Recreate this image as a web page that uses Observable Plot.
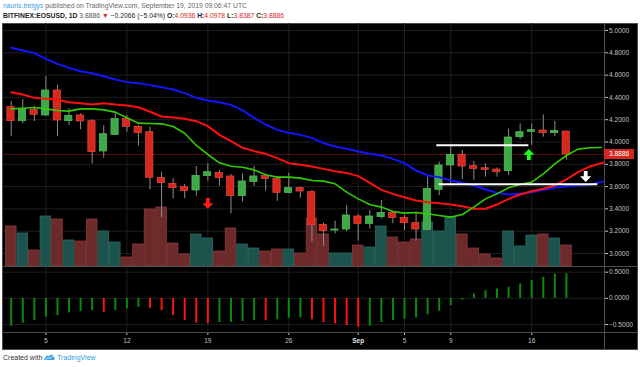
<!DOCTYPE html>
<html><head><meta charset="utf-8">
<script src="https://cdn.jsdelivr.net/npm/d3@7"></script>
<script src="https://cdn.jsdelivr.net/npm/@observablehq/plot@0.6"></script>
<style>
html,body{margin:0;padding:0;background:#fff;}
#root{position:relative;width:640px;height:367px;overflow:hidden;font-family:"Liberation Sans",Arial,sans-serif;}
#root svg{position:absolute;left:0;}
</style></head><body><div id="root"></div>
<script>
// ---- data ----
const dates = ["2019-08-02","2019-08-03","2019-08-04","2019-08-05","2019-08-06","2019-08-07","2019-08-08","2019-08-09","2019-08-10","2019-08-11",
"2019-08-12","2019-08-13","2019-08-14","2019-08-15","2019-08-16","2019-08-17","2019-08-18","2019-08-19","2019-08-20","2019-08-21",
"2019-08-22","2019-08-23","2019-08-24","2019-08-25","2019-08-26","2019-08-27","2019-08-28","2019-08-29","2019-08-30","2019-08-31",
"2019-09-01","2019-09-02","2019-09-03","2019-09-04","2019-09-05","2019-09-06","2019-09-07","2019-09-08","2019-09-09","2019-09-10",
"2019-09-11","2019-09-12","2019-09-13","2019-09-14","2019-09-15","2019-09-16","2019-09-17","2019-09-18","2019-09-19"];
const extraDates = ["2019-09-20","2019-09-21","2019-09-22","2019-09-23"];
const open = [4.312,4.187,4.288,4.238,4.462,4.187,4.238,4.187,3.915,4.064,4.208,4.136,4.088,3.676,3.625,3.595,3.565,3.694,3.723,3.691,3.514,3.640,3.694,3.667,3.544,3.586,3.550,3.257,3.206,3.215,3.332,3.266,3.326,3.362,3.320,3.272,3.212,3.571,3.789,3.885,3.783,3.765,3.753,3.738,4.043,4.091,4.103,4.079,4.0936];
const high = [4.363,4.381,4.318,4.587,4.507,4.297,4.253,4.199,4.148,4.259,4.238,4.148,4.133,3.729,3.670,3.619,3.780,3.804,3.744,3.709,3.714,3.780,3.706,3.685,3.720,3.595,3.565,3.272,3.290,3.430,3.350,3.386,3.475,3.371,3.341,3.371,3.685,3.819,3.969,3.924,3.825,3.804,3.768,4.115,4.163,4.163,4.244,4.184,4.0978];
const low = [4.049,4.163,4.184,4.229,4.049,4.148,4.109,3.804,3.855,4.064,4.088,3.963,3.571,3.320,3.490,3.490,3.514,3.649,3.604,3.356,3.460,3.601,3.559,3.469,3.535,3.496,3.102,3.063,3.176,3.197,3.111,3.221,3.311,3.266,3.206,3.111,3.206,3.520,3.625,3.664,3.655,3.685,3.685,3.700,4.022,3.969,4.043,4.049,3.8387];
const close = [4.187,4.297,4.244,4.462,4.193,4.235,4.184,3.909,4.070,4.205,4.136,4.079,3.679,3.631,3.586,3.559,3.697,3.729,3.676,3.514,3.646,3.691,3.667,3.544,3.586,3.556,3.254,3.200,3.215,3.341,3.266,3.332,3.362,3.317,3.272,3.215,3.580,3.789,3.885,3.780,3.759,3.750,3.729,4.040,4.088,4.106,4.079,4.100,3.8886];
const volume = [4.0,3.3,1.6,5.0,4.7,2.6,2.5,4.7,3.5,2.4,0.9,2.2,5.7,5.9,2.3,1.2,3.2,2.8,1.5,3.8,2.2,1.8,1.5,1.7,1.7,1.3,4.8,3.2,1.3,1.3,2.1,1.9,4.0,2.9,2.4,2.7,4.4,3.5,4.9,3.2,1.8,1.2,0.8,3.5,2.0,3.1,3.2,2.8,2.1];
const ao = [-0.532,-0.475,-0.424,-0.361,-0.329,-0.278,-0.253,-0.234,-0.266,-0.234,-0.203,-0.171,-0.190,-0.234,-0.329,-0.424,-0.475,-0.487,-0.462,-0.458,-0.443,-0.424,-0.428,-0.411,-0.380,-0.373,-0.411,-0.462,-0.487,-0.519,-0.551,-0.532,-0.462,-0.424,-0.399,-0.373,-0.316,-0.247,-0.139,-0.032,0.083,0.147,0.179,0.212,0.276,0.340,0.404,0.462,0.470];
const lips = [4.297,4.303,4.309,4.297,4.282,4.277,4.297,4.297,4.288,4.268,4.217,4.169,4.166,4.163,4.139,4.079,3.969,3.888,3.813,3.783,3.774,3.750,3.706,3.685,3.685,3.676,3.655,3.649,3.625,3.550,3.490,3.439,3.416,3.377,3.362,3.368,3.356,3.341,3.326,3.350,3.416,3.490,3.535,3.589,3.619,3.640,3.714,3.804,3.879,3.936,3.948,3.951];
const teeth = [4.447,4.426,4.396,4.387,4.378,4.357,4.348,4.336,4.348,4.336,4.327,4.312,4.271,4.229,4.220,4.208,4.187,4.142,4.064,4.007,3.948,3.918,3.894,3.855,3.810,3.795,3.780,3.759,3.738,3.723,3.694,3.634,3.571,3.535,3.505,3.475,3.460,3.451,3.439,3.424,3.401,3.401,3.439,3.490,3.529,3.559,3.580,3.610,3.664,3.729,3.780,3.810,3.840];
const jaw = [4.845,4.821,4.797,4.746,4.701,4.665,4.635,4.617,4.590,4.561,4.537,4.528,4.510,4.492,4.471,4.438,4.396,4.372,4.357,4.333,4.283,4.217,4.157,4.109,4.082,4.064,4.037,3.990,3.960,3.939,3.915,3.894,3.879,3.849,3.810,3.744,3.700,3.685,3.655,3.634,3.610,3.574,3.544,3.529,3.535,3.550,3.571,3.589,3.604,3.610,3.616,3.640,3.670];
const levelPrice = [3.970, 3.622];
const levelStart = ["2019-09-07T19:00Z","2019-09-08T00:00Z"];
const levelEnd = ["2019-09-15T18:00Z","2019-09-21T17:00Z"];
const arrowTime = ["2019-08-19T00:00Z","2019-09-15T18:00Z","2019-09-20T16:00Z"];
const arrowPrice = [3.448, 3.888, 3.691];
const arrowDir = ["down","up","down"];
const arrowColor = ["#ff1a1a","#1aff1a","#ffffff"];
const priceTicks = [3.0,3.2,3.4,3.6,3.8,4.0,4.2,4.4,4.6,4.8,5.0];
const aoTicks = [-0.5,0,0.5];
const timeTicks = ["2019-08-05","2019-08-12","2019-08-19","2019-08-26","2019-09-01","2019-09-05","2019-09-09","2019-09-16"];
const timeLabels = ["5","12","19","26","Sep","5","9","16"];
const lastPrice = 3.8886;

// ---- build ----
const parse = d3.utcParse("%Y-%m-%d");
const iso = s => new Date(s);
const candles = dates.map((d,i)=>({date:parse(d),open:open[i],high:high[i],low:low[i],close:close[i],volume:volume[i],ao:ao[i],up:close[i]>=open[i],rising:i===0?true:ao[i]>ao[i-1]}));
const allDates = dates.concat(extraDates).map(parse);
const lipsData = lips.map((v,i)=>({date:allDates[i],v}));
const teethData = teeth.map((v,i)=>({date:allDates[i],v}));
const jawData = jaw.map((v,i)=>({date:allDates[i],v}));
const levels = levelPrice.map((p,i)=>({p,x1:iso(levelStart[i]),x2:iso(levelEnd[i])}));
const arrows = arrowTime.map((t,i)=>({date:iso(t),p:arrowPrice[i],dir:arrowDir[i],color:arrowColor[i]}));
const ticks = timeTicks.map((d,i)=>({date:parse(d),label:timeLabels[i]}));
const tickDates = ticks.map(d=>d.date);

const t0 = d3.utcHour.offset(candles[0].date, -15.1);
const t1 = d3.utcHour.offset(candles[0].date, 51.31*24);
const xCfg = () => ({type:"utc", domain:[t0,t1], axis:null});
const style = {background:"transparent", color:"#c2c2c2", fontFamily:"Liberation Sans, Arial, sans-serif", fontSize:"6.6px", overflow:"visible"};
const paneCommon = {width:640, height:266, marginTop:23, marginBottom:0, marginLeft:3, marginRight:36, style};
const yPrice = {domain:[2.8834,5.0628]};
const hr = h => d => d3.utcHour.offset(d.date, h);
const G = "#3fa948", GS = "#55c45d", R = "#d7281f", RS = "#ea4a40";

const upArrow = {draw(c){c.moveTo(-1.9,5.5);c.lineTo(1.9,5.5);c.lineTo(1.9,0.3);c.lineTo(5.6,0.3);c.lineTo(0,-5.5);c.lineTo(-5.6,0.3);c.lineTo(-1.9,0.3);c.closePath();}};
const downArrow = {draw(c){c.moveTo(-1.9,-5.5);c.lineTo(1.9,-5.5);c.lineTo(1.9,-0.3);c.lineTo(5.6,-0.3);c.lineTo(0,5.5);c.lineTo(-5.6,-0.3);c.lineTo(-1.9,-0.3);c.closePath();}};

const root = document.getElementById("root");
function addDiv(html, css){const d=document.createElement("div");d.style.cssText=css;d.innerHTML=html;root.appendChild(d);return d;}

// header
addDiv('<div><span style="color:#3d9be0">nauris.treigys</span> published on TradingView.com, September 19, 2019 09:06:47 UTC</div>'+
'<div style="color:#222"><b>BITFINEX:EOSUSD, 1D</b> <span style="color:#555">3.8886</span> <span style="color:#d8241c">▼</span> −0.2066 (−5.04%) <b>O:</b><span style="color:#d8241c">4.0936</span> <b>H:</b><span style="color:#d8241c">4.0978</span> <b>L:</b><span style="color:#d8241c">3.8387</span> <b>C:</b><span style="color:#d8241c">3.8886</span></div>',
"position:absolute;left:3px;top:1px;font-size:6.8px;line-height:9.5px;color:#666;white-space:nowrap;");

// black panel
addDiv("", "position:absolute;left:2px;top:23px;width:636px;height:327px;background:#000;box-sizing:border-box;border:1px solid #4d4d4d;");

// grid + price axis
const gridPlot = Plot.plot({...paneCommon,
  x:xCfg(),
  y:{...yPrice, axis:"right", ticks:priceTicks, tickFormat:d3.format(".4f"), tickSize:3, tickPadding:1.5, label:null},
  marks:[
    Plot.ruleY(priceTicks,{stroke:"#1e1e1e"}),
    Plot.ruleX(tickDates,{stroke:"#1e1e1e"})
  ]});
gridPlot.style.top="0px"; root.appendChild(gridPlot);

// volume
const volPlot = Plot.plot({...paneCommon,
  x:xCfg(),
  y:{domain:[0,24.3], axis:null},
  marks:[
    Plot.rect(candles,{x1:hr(-11),x2:hr(11),y1:()=>0,y2:"volume",fill:d=>d.up?"#1c534d":"#6d2a2a",stroke:d=>d.up?"#2b6a63":"#8a3a3a",strokeWidth:0.8})
  ]});
volPlot.style.top="0px"; root.appendChild(volPlot);

// candles + indicators
const pricePlot = Plot.plot({...paneCommon,
  x:xCfg(),
  y:{...yPrice, axis:null},
  marks:[
    Plot.ruleY([lastPrice],{stroke:"#5a1010"}),
    Plot.ruleX(candles,{x:"date",y1:"low",y2:"high",stroke:"#8c8c8c",strokeWidth:1}),
    Plot.rect(candles,{x1:hr(-7.2),x2:hr(7.2),y1:"open",y2:"close",fill:d=>d.up?G:R,stroke:d=>d.up?GS:RS,strokeWidth:0.7}),
    Plot.line(jawData,{x:"date",y:"v",stroke:"#1414ff",strokeWidth:2,clip:true}),
    Plot.line(teethData,{x:"date",y:"v",stroke:"#ff1010",strokeWidth:2,clip:true}),
    Plot.line(lipsData,{x:"date",y:"v",stroke:"#33cc00",strokeWidth:1.6,clip:true}),
    Plot.ruleY(levels,{y:"p",x1:"x1",x2:"x2",stroke:"#ffffff",strokeWidth:2}),
    Plot.dot(arrows.filter(a=>a.dir==="up"),{x:"date",y:"p",symbol:upArrow,fill:"color",stroke:null,r:5}),
    Plot.dot(arrows.filter(a=>a.dir==="down"),{x:"date",y:"p",symbol:downArrow,fill:"color",stroke:null,r:5})
  ]});
pricePlot.style.top="0px"; root.appendChild(pricePlot);

// oscillator
const aoPlot = Plot.plot({width:640, height:84, marginTop:0, marginBottom:18, marginLeft:3, marginRight:36, style,
  x:{type:"utc", domain:[t0,t1], axis:"bottom", ticks:tickDates, tickFormat:()=>"", tickSize:3, label:null},
  y:{domain:[-0.653,0.609], axis:"right", ticks:aoTicks, tickFormat:d3.format(".4f"), tickSize:3, tickPadding:1.5, label:null},
  marks:[
    Plot.ruleY(aoTicks,{stroke:"#1e1e1e"}),
    Plot.ruleX(tickDates,{stroke:"#1e1e1e"}),
    Plot.ruleX(candles,{x:"date",y1:()=>0,y2:"ao",stroke:d=>d.rising?"#0b8a0b":"#ff1414",strokeWidth:2}),
    Plot.text(ticks.filter(t=>t.label!=="Sep"),{x:"date",text:"label",frameAnchor:"bottom",dy:10,fill:"#c2c2c2"}),
    Plot.text(ticks.filter(t=>t.label==="Sep"),{x:"date",text:"label",frameAnchor:"bottom",dy:10,fill:"#e0e0e0",fontWeight:"bold"})
  ]});
aoPlot.style.top="266px"; root.appendChild(aoPlot);

// pane separators
addDiv("", "position:absolute;left:2px;top:266px;width:636px;height:1px;background:#4d4d4d;");
addDiv("", "position:absolute;left:2px;top:332px;width:636px;height:1px;background:#4d4d4d;");
addDiv("", "position:absolute;left:604px;top:23px;width:1px;height:327px;background:#4d4d4d;");

// last price label
const yl = pricePlot.scale("y").apply(lastPrice);
addDiv(d3.format(".4f")(lastPrice), `position:absolute;left:604px;top:${yl-4.8}px;width:30px;height:9.5px;background:#d3261e;color:#fff;font-size:6.6px;line-height:9.5px;text-align:center;`);

// footer
addDiv('Created with <svg width="11" height="8" viewBox="0 0 11 8" style="position:static;display:inline-block;vertical-align:-1px"><path d="M1 7 C0 7 0 4.5 1.8 4.5 C2 2.5 4.5 2 5.2 3.4 C6 0.8 9.6 1.2 9.6 4 C11 4.2 11 7 9.6 7 Z" fill="#3aa0e6"/><path d="M2 6.5 L4.2 4.5 L5.8 5.8 L8.4 3.2" stroke="#fff" stroke-width="0.9" fill="none"/></svg> <span style="color:#2f9be3">TradingView</span>',
"position:absolute;left:3px;top:353px;font-size:7px;line-height:9px;color:#333;white-space:nowrap;");
</script></body></html>
